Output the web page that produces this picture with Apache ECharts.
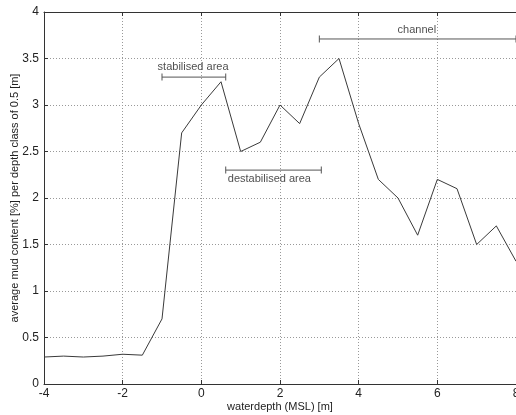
<!DOCTYPE html>
<html>
<head>
<meta charset="utf-8">
<script src="https://cdn.jsdelivr.net/npm/echarts@6/dist/echarts.min.js"></script>
<style>
  html, body { margin: 0; padding: 0; background: #fff; }
  #chart { width: 516px; height: 415px; }
</style>
</head>
<body>
<div id="chart"></div>
<script>
// water depth classes (m, MSL) and average mud content (%)
const depths = [-4, -3.5, -3, -2.5, -2, -1.5, -1, -0.5, 0, 0.5, 1, 1.5, 2, 2.5, 3, 3.5, 4, 4.5, 5, 5.5, 6, 6.5, 7, 7.5, 8];
const mud = [0.29, 0.30, 0.29, 0.30, 0.32, 0.31, 0.70, 2.70, 3.00, 3.25, 2.50, 2.60, 3.00, 2.80, 3.30, 3.50, 2.80, 2.20, 2.00, 1.60, 2.20, 2.10, 1.50, 1.70, 1.32];

// annotated ranges: [from, to, level]
const rangeNames = ['stabilised area', 'destabilised area', 'channel'];
const rangeSpans = [[-1, 0.62, 3.3], [0.62, 3.05, 2.3], [3, 8, 3.71]];
// where each label sits: [x, y]
const rangeLabelPos = [[-0.21, 3.41], [1.73, 2.2], [5.48, 3.81]];

const font = 'Liberation Sans, Arial, sans-serif';
const ink = '#333';
const gridLine = { color: '#999', type: [1, 2], width: 1 };

const myChart = echarts.init(document.getElementById('chart'));

const series = [
  {
    name: 'mud',
    type: 'line',
    data: depths.map((d, i) => [d, mud[i]]),
    symbol: 'none',
    lineStyle: { color: '#3a3a3a', width: 1 },
    z: 5,
  },
];

rangeSpans.forEach((s, i) => {
  // horizontal bar with short end ticks
  series.push({
    type: 'line',
    data: [[s[0], s[2]], [s[1], s[2]]],
    symbol: 'rect',
    symbolSize: [1, 7],
    showSymbol: true,
    itemStyle: { color: '#555' },
    lineStyle: { color: '#555', width: 1 },
    silent: true,
  });
  series.push({
    type: 'scatter',
    data: [[rangeLabelPos[i][0], rangeLabelPos[i][1]]],
    symbolSize: 0,
    silent: true,
    label: {
      show: true,
      position: 'inside',
      formatter: rangeNames[i],
      color: '#222',
      fontFamily: font,
      fontSize: 11,
    },
  });
});

myChart.setOption({
  animation: false,
  backgroundColor: '#fff',
  grid: { left: 44, right: 0, top: 12, bottom: 31, outerBoundsMode: 'none', containLabel: false },
  xAxis: [
    {
      type: 'value',
      min: -4,
      max: 8,
      interval: 2,
      name: 'waterdepth (MSL) [m]',
      nameLocation: 'middle',
      nameGap: 17,
      nameMoveOverlap: false,
      nameTextStyle: { color: '#222', fontFamily: font, fontSize: 11 },
      axisLine: { show: true, onZero: false, lineStyle: { color: ink } },
      axisTick: { inside: true, length: 4, lineStyle: { color: ink } },
      axisLabel: { color: '#222', fontFamily: font, fontSize: 12, margin: 4 },
      splitLine: { show: true, lineStyle: gridLine },
    },
    {
      type: 'value',
      position: 'top',
      min: -4,
      max: 8,
      interval: 2,
      axisLine: { show: true, onZero: false, lineStyle: { color: ink } },
      axisTick: { inside: true, length: 4, lineStyle: { color: ink } },
      axisLabel: { show: false },
      splitLine: { show: false },
    },
  ],
  yAxis: {
    type: 'value',
    min: 0,
    max: 4,
    interval: 0.5,
    name: 'average mud content [%] per depth class of 0.5 [m]',
    nameLocation: 'middle',
    nameGap: 24,
    nameMoveOverlap: false,
    nameTextStyle: { color: '#222', fontFamily: font, fontSize: 11 },
    axisLine: { show: true, onZero: false, lineStyle: { color: ink } },
    axisTick: { show: true, inside: true, length: 4, lineStyle: { color: ink } },
    axisLabel: { color: '#222', fontFamily: font, fontSize: 12, margin: 5 },
    splitLine: { show: true, lineStyle: gridLine },
  },
  series,
});
</script>
</body>
</html>
